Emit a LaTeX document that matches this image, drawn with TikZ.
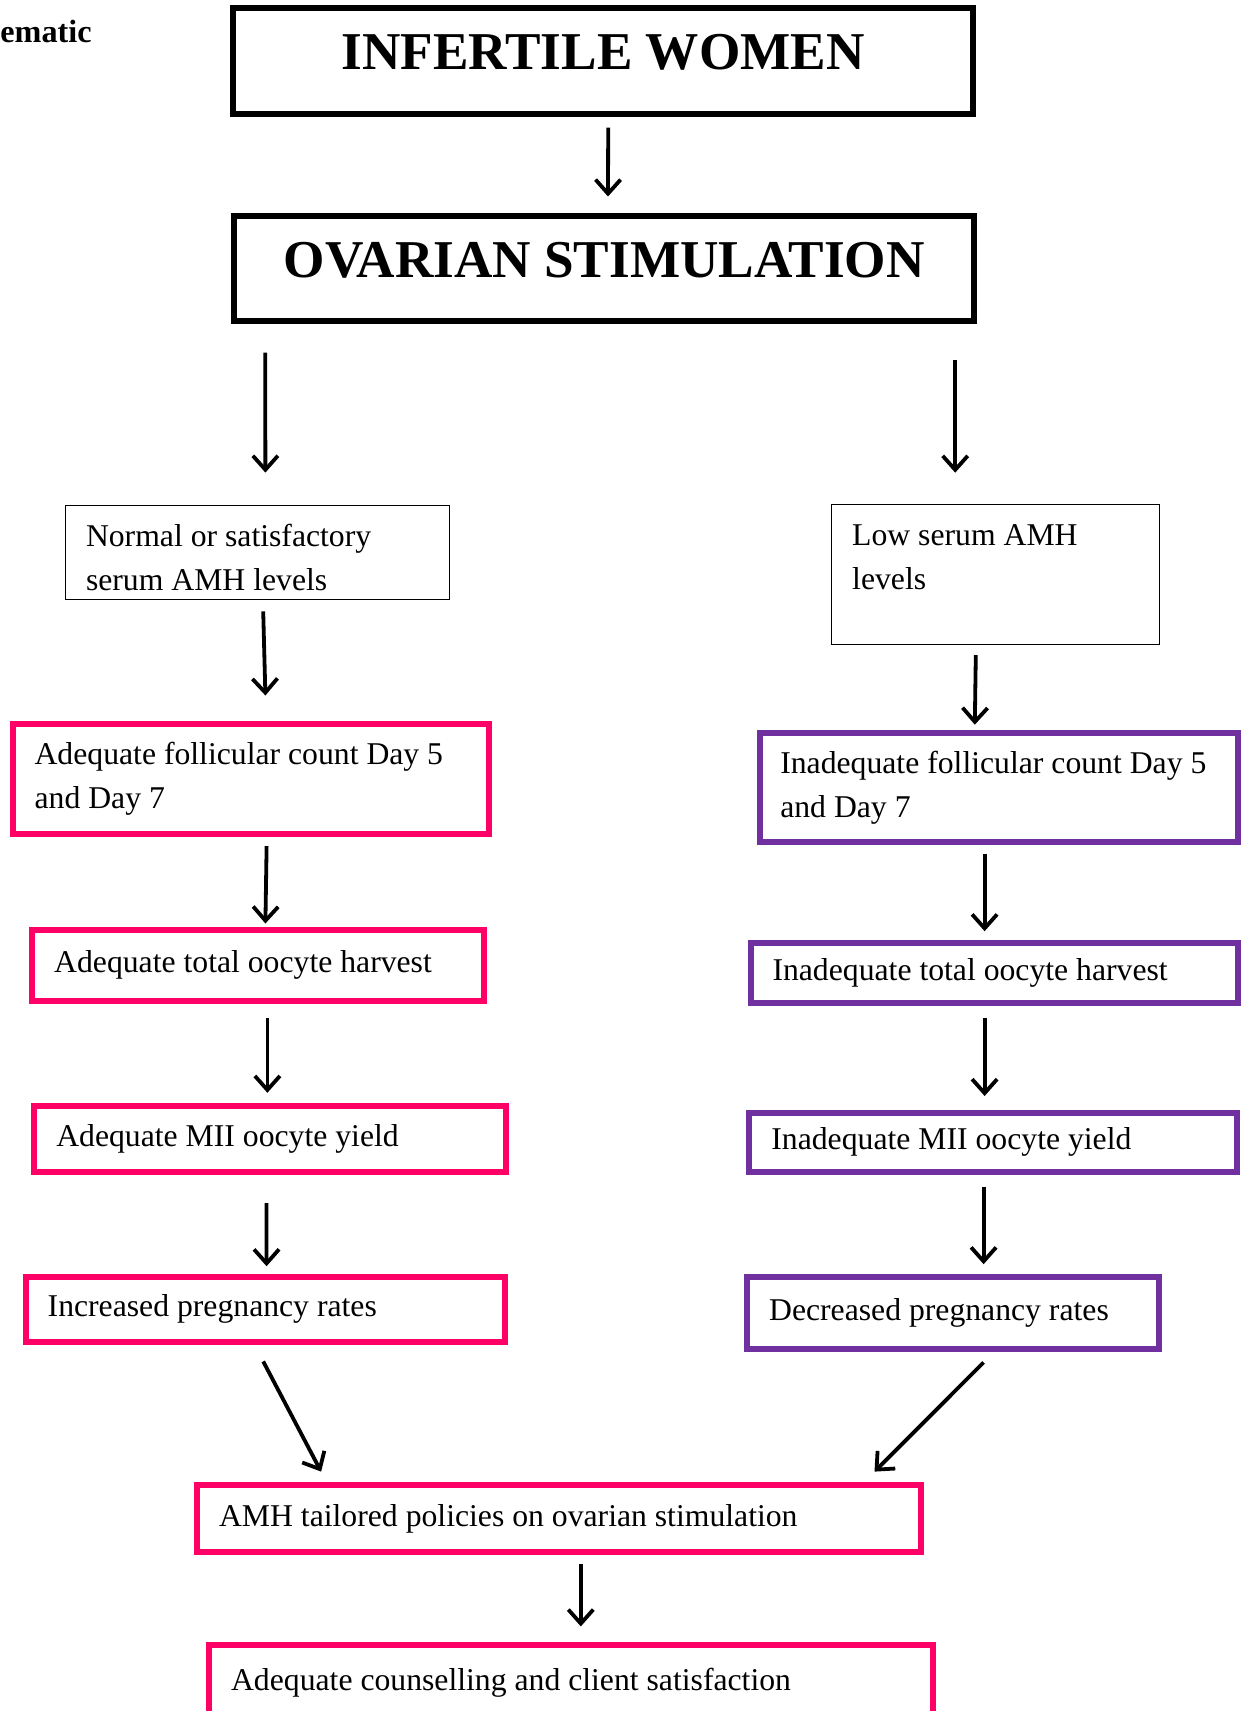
\documentclass[tikz,border=0pt]{standalone}
\usepackage{fontspec}
\setmainfont{Liberation Serif}
\usetikzlibrary{arrows.meta}
\definecolor{focus}{RGB}{255,0,102}
\definecolor{lowfocus}{RGB}{112,48,160}
\tikzset{
  arr/.style={-{Straight Barb[length=7pt,width=12.5pt]}, line width=1.9pt},
  box/.style={draw, outer sep=0pt, align=flush left, font=\fontsize{15.85}{21.8}\selectfont},
  titlebox/.style={draw, line width=3pt, outer sep=0pt, text depth=9pt, font=\fontsize{26.6}{30}\selectfont\bfseries},
  thinbox/.style={draw, line width=0.6pt, outer sep=0pt},
  boxtext/.style={anchor=north west, inner sep=0pt, align=flush left, font=\fontsize{15.85}{21.8}\selectfont},
  highbox/.style={box, draw=focus, line width=3pt, inner xsep=11pt},
  lowbox/.style={box, draw=lowfocus, line width=3pt, inner xsep=11pt}
}

\begin{document}
\begin{tikzpicture}[x=1pt,y=-1pt]
  \useasboundingbox (0,0) rectangle (625.5,855.5);

  % caption fragment
  \node[anchor=base west, inner sep=0pt, font=\fontsize{16.1}{19}\selectfont\bfseries] (cap) at (0,21.5) {ematic};

  % header
  \node[titlebox, minimum width=370pt, minimum height=52.9pt] (iw) at (301.6,30.6) {INFERTILE WOMEN};
  \node[titlebox, minimum width=370pt, minimum height=52.9pt] (os) at (302.1,134.3) {OVARIAN STIMULATION};
  \draw[arr] ([shift={(2.5,6.8)}]iw.south) -- ([shift={(1.9,-9.6)}]os.north);

  % AMH levels
  \node[thinbox, minimum width=192pt, minimum height=47pt] (nrm) at (128.8,276.2) {};
  \node[boxtext] (nrmtxt) at ([shift={(10,9.3)}]nrm.north west) {Normal or satisfactory\\serum AMH levels};
  \node[thinbox, minimum width=163.8pt, minimum height=69.9pt] (low) at (497.8,287.1) {};
  \node[boxtext] (lowtxt) at ([shift={(10,10.1)}]low.north west) {Low serum AMH\\levels};
  \draw[arr] ([shift={(15.5,15.6)}]os.south west) -- ([shift={(3.9,-16.4)}]nrm.north);
  \draw[arr] ([shift={(-9.5,19.4)}]os.south east) -- ([shift={(-20.2,-15.8)}]low.north);

  % Adequate side
  \node[highbox, minimum width=238pt, minimum height=54.7pt, text width=216pt] (adfol) at (125.3,389.5) {Adequate follicular count Day 5\\and Day 7};
  \node[highbox, minimum width=226pt, minimum height=35.5pt, text width=204pt] (adtot) at (129.1,482.5) {Adequate total oocyte harvest};
  \node[highbox, minimum width=235.9pt, minimum height=32.8pt, text width=213.9pt] (admii) at (135.1,569.6) {Adequate MII oocyte yield};
  \node[highbox, minimum width=239.7pt, minimum height=32.8pt, text width=217.7pt] (inc) at (132.7,654.7) {Increased pregnancy rates};
  \draw[arr] ([shift={(2.8,6)}]nrm.south) -- ([shift={(7.4,-14.4)}]adfol.north);
  \draw[arr] ([shift={(8,6.2)}]adfol.south) -- ([shift={(3.6,-3)}]adtot.north);
  \draw[arr] ([shift={(4.6,8.5)}]adtot.south) -- ([shift={(-1.4,-6.8)}]admii.north);
  \draw[arr] ([shift={(-1.9,15.6)}]admii.south) -- ([shift={(0.6,-5.2)}]inc.north);

  % Inadequate side
  \node[lowbox, inner xsep=10pt, minimum width=238.7pt, minimum height=54.7pt, text width=218.7pt] (inadfol) at (499.5,393.8) {Inadequate follicular count Day 5\\and Day 7};
  \node[lowbox, minimum width=243.5pt, minimum height=30.2pt, text width=221.5pt] (inadtot) at (497,486.4) {Inadequate total oocyte harvest};
  \node[lowbox, minimum width=243.6pt, minimum height=29.6pt, text width=221.6pt] (inadmii) at (496.5,571.2) {Inadequate MII oocyte yield};
  \node[lowbox, minimum width=205.9pt, minimum height=36.2pt, text width=183.9pt] (dec) at (476.5,656.4) {Decreased pregnancy rates};
  \draw[arr] ([shift={(-9.9,5.5)}]low.south) -- ([shift={(-12.1,-4.1)}]inadfol.north);
  \draw[arr] ([shift={(-7.2,5.7)}]inadfol.south) -- ([shift={(-4.7,-5.7)}]inadtot.north);
  \draw[arr] ([shift={(-4.7,7.3)}]inadtot.south) -- ([shift={(-4.2,-8.4)}]inadmii.north);
  \draw[arr] ([shift={(-4.7,7.3)}]inadmii.south) -- ([shift={(15.3,-6.2)}]dec.north);

  % outcome
  \node[highbox, minimum width=361.9pt, minimum height=33.4pt, text width=339.9pt] (amh) at (279.5,759.3) {AMH tailored policies on ovarian stimulation};
  \node[highbox, minimum width=361.9pt, minimum height=38pt, text width=339.9pt] (couns) at (285.5,841.3) {Adequate counselling and client satisfaction};
  \draw[arr] ([shift={(-1.1,9.6)}]inc.south) -- ([shift={(62,-6.8)}]amh.north west);
  \draw[arr] ([shift={(15.3,6.7)}]dec.south) -- ([shift={(-23.2,-6.8)}]amh.north east);
  \draw[arr] ([shift={(10.9,6.2)}]amh.south) -- ([shift={(4.9,-9.1)}]couns.north);

\end{tikzpicture}
\end{document}
